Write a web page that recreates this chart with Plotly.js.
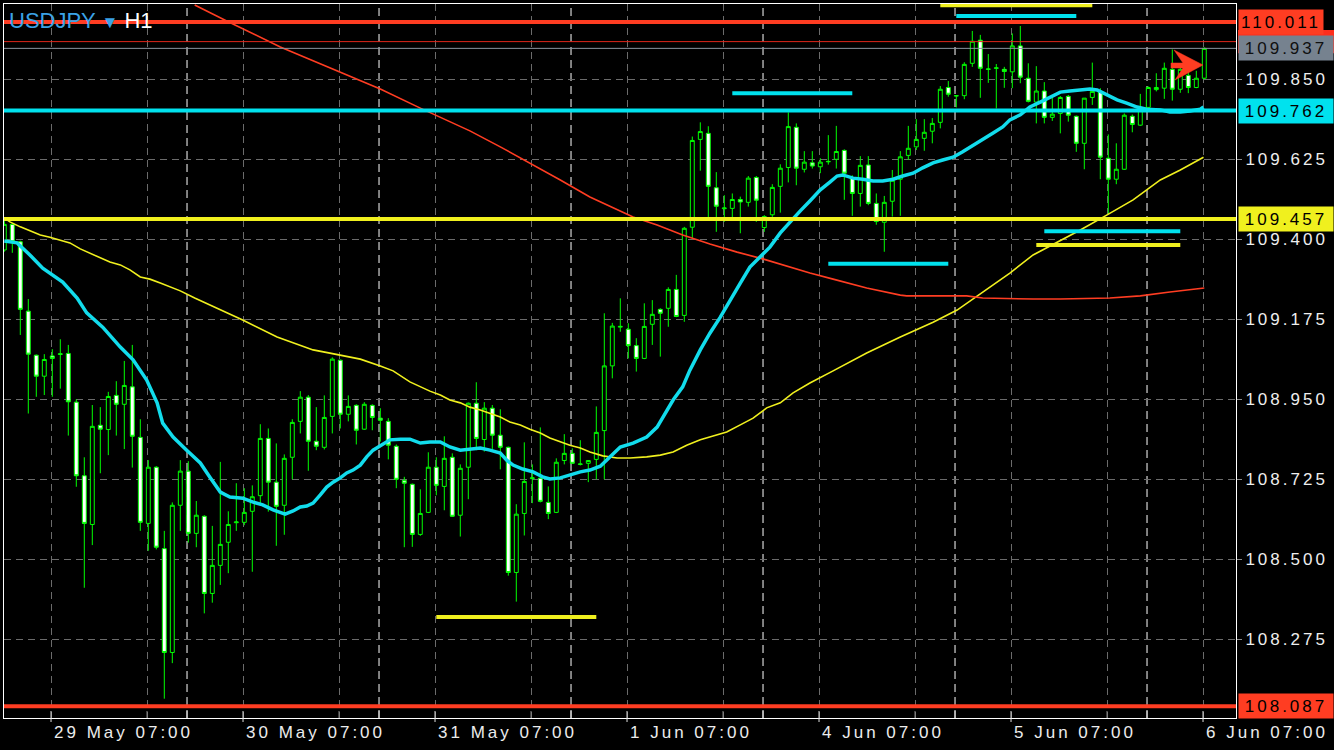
<!DOCTYPE html>
<html><head><meta charset="utf-8">
<script src="https://cdn.plot.ly/plotly-3.0.1.min.js"></script>
<style>
html,body{margin:0;padding:0;background:#000;}
#chart{width:1334px;height:750px;}
.ytick text, .annotation-text{letter-spacing:3px;}
</style></head><body><div id="chart"></div>
<script>
// ---------- DATA (USDJPY H1) ----------
const open = [
109.370,109.442,109.393,109.198,109.074,109.015,109.072,109.076,109.079,108.942,
108.735,108.598,108.877,108.865,108.961,108.936,108.985,108.843,108.601,108.759,
108.530,108.238,108.652,108.748,108.573,108.621,108.404,108.483,108.548,108.603,
108.604,108.635,108.679,108.840,108.717,108.652,108.787,108.888,108.956,108.832,
108.815,108.902,109.060,108.908,108.933,108.866,108.933,108.897,108.888,108.818,
108.722,108.711,108.570,108.632,108.759,108.705,108.787,108.624,108.759,108.939,
108.837,108.925,108.849,108.815,108.463,108.629,108.727,108.728,108.660,108.632,
108.778,108.798,108.767,108.770,108.781,108.862,109.044,109.153,109.147,109.101,
109.065,109.161,109.203,109.206,109.259,109.186,109.434,109.681,109.698,109.545,
109.486,109.487,109.512,109.504,109.574,109.433,109.469,109.549,109.602,109.715,
109.597,109.615,109.604,109.618,109.625,109.650,109.572,109.529,109.609,109.501,
109.448,109.507,109.569,109.636,109.660,109.684,109.704,109.729,109.827,109.803,
109.804,109.895,109.960,109.878,109.881,109.878,109.871,109.944,109.853,109.786,
109.817,109.743,109.754,109.802,109.746,109.670,109.799,109.816,109.628,109.569,
109.597,109.746,109.721,109.771,109.821,109.825,109.878,109.822,109.861,109.827,
109.853];
const high = [
109.455,109.446,109.396,109.232,109.076,109.077,109.091,109.119,109.103,108.950,
108.787,108.934,108.928,108.971,109.001,109.058,109.103,108.894,108.779,108.762,
108.580,108.660,108.779,108.776,108.664,108.624,108.594,108.774,108.635,108.714,
108.700,108.708,108.880,108.868,108.826,108.795,108.894,108.973,108.962,108.928,
108.961,109.068,109.062,108.961,108.936,108.942,108.936,108.925,108.897,108.823,
108.732,108.713,108.697,108.801,108.787,108.846,108.798,108.767,108.941,108.998,
108.942,108.934,108.922,108.817,108.655,108.829,108.767,108.871,108.705,108.784,
108.852,108.812,108.835,108.779,108.930,109.192,109.165,109.234,109.164,109.122,
109.220,109.229,109.206,109.265,109.300,109.435,109.689,109.729,109.718,109.589,
109.524,109.529,109.520,109.578,109.578,109.468,109.555,109.611,109.757,109.726,
109.648,109.648,109.628,109.693,109.719,109.653,109.580,109.634,109.634,109.529,
109.522,109.595,109.648,109.719,109.738,109.738,109.741,109.831,109.845,109.805,
109.898,109.986,109.975,109.921,109.893,109.885,109.979,110.000,109.895,109.887,
109.842,109.799,109.803,109.806,109.748,109.797,109.897,109.825,109.695,109.670,
109.754,109.751,109.809,109.830,109.867,109.897,109.934,109.885,109.878,109.874,
109.940];
const low = [
109.365,109.362,109.131,108.910,108.957,108.962,108.957,108.980,108.848,108.704,
108.420,108.540,108.742,108.793,108.848,108.810,108.758,108.580,108.524,108.528,
108.108,108.208,108.580,108.547,108.534,108.348,108.378,108.428,108.461,108.580,
108.596,108.465,108.651,108.634,108.538,108.569,108.725,108.854,108.749,108.807,
108.809,108.854,108.868,108.888,108.823,108.864,108.863,108.831,108.781,108.700,
108.534,108.535,108.566,108.630,108.680,108.638,108.619,108.564,108.669,108.807,
108.803,108.810,108.753,108.454,108.381,108.567,108.658,108.660,108.613,108.630,
108.767,108.768,108.764,108.717,108.725,108.725,109.009,109.140,109.065,109.028,
109.063,109.103,109.070,109.154,109.181,109.168,109.403,109.593,109.452,109.421,
109.449,109.452,109.417,109.492,109.449,109.421,109.463,109.475,109.560,109.552,
109.588,109.599,109.586,109.610,109.599,109.511,109.466,109.492,109.496,109.441,
109.365,109.464,109.466,109.623,109.651,109.649,109.670,109.712,109.801,109.771,
109.794,109.885,109.798,109.840,109.768,109.826,109.825,109.839,109.785,109.726,
109.726,109.733,109.698,109.731,109.646,109.597,109.778,109.569,109.471,109.555,
109.595,109.701,109.719,109.768,109.816,109.795,109.790,109.812,109.811,109.825,
109.850];
const close = [
109.442,109.393,109.203,109.077,109.015,109.062,109.065,109.078,108.943,108.735,
108.601,108.874,108.866,108.958,108.936,108.989,108.846,108.604,108.759,108.534,
108.238,108.652,108.748,108.573,108.624,108.404,108.483,108.542,108.598,108.605,
108.632,108.676,108.840,108.717,108.649,108.784,108.885,108.956,108.832,108.818,
108.899,109.063,108.908,108.930,108.863,108.936,108.899,108.891,108.821,108.725,
108.714,108.570,108.629,108.759,108.708,108.784,108.621,108.756,108.939,108.840,
108.925,108.849,108.815,108.463,108.627,108.719,108.729,108.663,108.629,108.773,
108.798,108.770,108.768,108.778,108.857,109.044,109.156,109.155,109.101,109.065,
109.155,109.189,109.192,109.259,109.183,109.431,109.678,109.703,109.549,109.493,
109.488,109.512,109.505,109.572,109.510,109.464,109.546,109.600,109.717,109.600,
109.617,109.606,109.617,109.619,109.647,109.586,109.529,109.608,109.501,109.450,
109.504,109.566,109.632,109.656,109.681,109.701,109.726,109.822,109.808,109.804,
109.892,109.957,109.881,109.879,109.882,109.872,109.944,109.856,109.788,109.817,
109.743,109.752,109.799,109.749,109.670,109.797,109.816,109.631,109.569,109.597,
109.749,109.723,109.771,109.827,109.827,109.881,109.822,109.878,109.827,109.853,
109.937];

// moving averages: [bar position, value]
const cyanMaBar = [0,1.6,3.2,4.8,7.3,9.1,10.3,12.3,14.5,16.1,17.8,19.1,19.8,21.1,22.8,24.5,25.7,27.0,28.2,29.8,
31.1,32.3,33.6,35.1,36.1,37.0,37.8,38.6,39.5,40.3,41.1,42.0,42.8,43.6,44.5,45.3,46.1,47.0,48.2,49.5,
50.7,52.0,53.2,54.5,55.7,57.0,58.2,59.5,60.7,62.0,62.8,63.6,64.8,66.1,67.3,68.2,69.5,70.7,72.0,73.2,
74.5,75.7,77.0,78.6,80.3,81.6,82.3,83.6,84.8,85.7,87.0,88.2,89.5,90.7,92.0,93.2,94.5,95.7,97.0,98.2,
99.5,100.7,102.0,103.2,104.1,104.8,106.1,107.3,108.6,109.8,111.1,112.3,113.6,114.8,116.1,117.3,118.6,119.8,121.1,122.3,
123.6,124.8,125.7,127.0,128.2,129.5,130.7,132.0,133.2,134.5,135.7,136.6,137.8,139.1,140.3,141.6,142.8,144.5,145.7,147.0,
148.2,149.5,149.9];
const cyanMaVal = [109.395,109.390,109.356,109.319,109.280,109.235,109.193,109.153,109.097,109.061,109.004,108.940,108.883,108.844,108.807,108.771,108.731,108.689,108.675,108.672,
108.661,108.653,108.639,108.627,108.636,108.647,108.650,108.658,108.681,108.703,108.717,108.729,108.743,108.751,108.765,108.788,108.807,108.819,108.836,108.838,
108.838,108.827,108.830,108.830,108.816,108.807,108.810,108.813,108.807,108.799,108.779,108.765,108.754,108.746,108.732,108.726,108.729,108.737,108.746,108.751,
108.762,108.788,108.816,108.827,108.844,108.872,108.900,108.948,108.985,109.032,109.089,109.136,109.181,109.229,109.277,109.322,109.350,109.378,109.418,109.449,
109.480,109.508,109.539,109.561,109.578,109.581,109.572,109.569,109.564,109.564,109.569,109.578,109.586,109.601,109.615,109.623,109.631,109.646,109.665,109.682,
109.699,109.716,109.736,109.750,109.772,109.786,109.800,109.814,109.817,109.820,109.823,109.820,109.806,109.792,109.783,109.772,109.766,109.764,109.758,109.758,
109.761,109.766,109.772];
const yellowMaBar = [0,0.7,2.0,3.2,4.5,5.7,7.0,8.2,9.5,10.7,12.0,13.2,14.5,15.7,17.0,18.2,19.5,20.7,22.0,23.8,
26.1,29.8,34.1,37.0,38.6,40.7,44.5,47.0,48.6,50.7,52.0,53.2,54.5,55.7,57.0,58.2,59.5,60.7,62.0,63.2,
64.5,65.7,67.0,68.2,69.5,70.7,72.0,73.2,74.8,76.6,78.2,80.3,82.0,83.6,85.3,87.0,88.6,90.3,92.0,93.6,
95.3,97.0,98.6,100.7,103.6,107.8,112.0,116.1,119.1,122.3,125.7,128.6,132.0,134.5,137.8,141.1,142.8,144.5,147.0,149.9];
const yellowMaVal = [109.460,109.449,109.435,109.423,109.412,109.406,109.398,109.390,109.373,109.361,109.350,109.336,109.328,109.314,109.294,109.288,109.277,109.266,109.255,109.235,
109.212,109.173,109.125,109.103,109.089,109.080,109.063,109.044,109.030,108.999,108.985,108.973,108.962,108.948,108.940,108.928,108.920,108.911,108.900,108.886,
108.878,108.866,108.855,108.841,108.830,108.821,108.813,108.802,108.791,108.785,108.785,108.788,108.793,108.802,108.821,108.836,108.847,108.858,108.878,108.897,
108.926,108.940,108.968,108.996,109.030,109.080,109.125,109.167,109.201,109.252,109.305,109.356,109.395,109.426,109.468,109.511,109.539,109.567,109.595,109.631];
const redMaBar = [23.8,27.8,34.5,42.0,47.0,52.0,54.5,58.2,62.0,65.7,69.5,73.2,78.6,81.6,84.8,88.2,91.6,94.8,98.2,100.7,
103.6,107.8,112.0,112.8,120.3,122.3,128.6,132.0,138.2,142.0,145.7,150.0];
const redMaVal = [110.059,110.014,109.941,109.871,109.823,109.769,109.744,109.705,109.660,109.615,109.567,109.519,109.463,109.440,109.412,109.387,109.364,109.345,109.322,109.305,
109.288,109.263,109.243,109.241,109.241,109.235,109.232,109.232,109.235,109.241,109.252,109.263];

// horizontal levels
const levelRed = [110.011, 108.087];
const levelCyan = [109.762];
const levelYellow = [109.457];
const bidPrice = 109.937;
const askPrice = 109.956;
// short level segments: start bar, end bar, price
const cyanSegStart = [119, 91, 103, 130];
const cyanSegEnd   = [134, 106, 118, 147];
const cyanSegPrice = [110.028, 109.811, 109.331, 109.423];
const yellowSegStart = [117, 129, 54];
const yellowSegEnd   = [136, 147, 74];
const yellowSegPrice = [110.058, 109.384, 108.338];

// axes
const yTickVals = [109.850,109.625,109.400,109.175,108.950,108.725,108.500,108.275];
const xTickBars = [6,30,54,78,102,126,150];
const xTickLabels = ['29 May 07:00','30 May 07:00','31 May 07:00','1 Jun 07:00','4 Jun 07:00','5 Jun 07:00','6 Jun 07:00'];
const dayStartBars = [23,47,71,95,119,143];

// ---------- STYLE ----------
const RED = '#ff3d22', CYAN = '#00e2ee', YEL = '#f0f01e', GRN = '#00ff00';
const FONT = 'Liberation Sans, Arial, sans-serif';
const off = -0.16;               // grid lines sit slightly left of bar centres
const bars = open.map((_, i) => i);

const traces = [
  {type:'candlestick', x:bars, open:open, high:high, low:low, close:close,
   increasing:{line:{color:GRN,width:1}, fillcolor:'#000000'},
   decreasing:{line:{color:GRN,width:1}, fillcolor:'#ffffff'},
   whiskerwidth:0, hoverinfo:'none', showlegend:false},
  {type:'scatter', mode:'lines', x:yellowMaBar, y:yellowMaVal, line:{color:YEL,width:1.6}, hoverinfo:'skip', showlegend:false},
  {type:'scatter', mode:'lines', x:redMaBar, y:redMaVal, line:{color:RED,width:1.6}, hoverinfo:'skip', showlegend:false},
  {type:'scatter', mode:'lines', x:cyanMaBar, y:cyanMaVal, line:{color:'#12dcec',width:3.5}, hoverinfo:'skip', showlegend:false}
];

const PW = 1232, PH = 714;
const shapes = [];
// day separators
dayStartBars.forEach(b => shapes.push({type:'line', xref:'x', yref:'paper', x0:b+off, x1:b+off, y0:0, y1:1,
  line:{color:'#ffffff', width:1, dash:'8px,5px'}, layer:'below'}));
// bottom tick marks
for (let n = 0; n < 13; n++) {
  const k = 6 + 12*n + off;
  const labeled = n % 2 === 0;
  shapes.push({type:'line', xref:'x', yref:'paper', x0:k, x1:k, y0: labeled ? -4/PH : 0, y1:7/PH,
    line:{color: labeled ? '#e0e0e0' : '#8a8a8a', width:1}, layer:'above'});
}
dayStartBars.forEach(b => shapes.push({type:'line', xref:'x', yref:'paper', x0:b+off, x1:b+off, y0:0, y1:7/PH,
  line:{color:'#e0e0e0', width:1}, layer:'above'}));
// thin bid / ask lines
shapes.push({type:'line', xref:'paper', yref:'y', x0:0, x1:1, y0:askPrice, y1:askPrice, line:{color:'#e0261a', width:1}, layer:'above'});
shapes.push({type:'line', xref:'paper', yref:'y', x0:0, x1:1, y0:bidPrice, y1:bidPrice, line:{color:'#8a949e', width:1}, layer:'above'});
// thick full-width levels
const addLevel = (p, c) => shapes.push({type:'line', xref:'paper', yref:'y', x0:0, x1:1, y0:p, y1:p, line:{color:c, width:4}, layer:'above'});
levelRed.forEach(p => addLevel(p, RED));
levelCyan.forEach(p => addLevel(p, CYAN));
levelYellow.forEach(p => addLevel(p, YEL));
// short segments
cyanSegPrice.forEach((p, i) => shapes.push({type:'line', xref:'x', yref:'y', x0:cyanSegStart[i], x1:cyanSegEnd[i], y0:p, y1:p, line:{color:CYAN, width:4}, layer:'above'}));
yellowSegPrice.forEach((p, i) => shapes.push({type:'line', xref:'x', yref:'y', x0:yellowSegStart[i], x1:yellowSegEnd[i], y0:p, y1:p, line:{color:YEL, width:4}, layer:'above'}));
// ask price tag box (mostly hidden behind the bid tag)
shapes.push({type:'rect', xref:'paper', yref:'y', x0:1+2/PW, x1:1+98/PW, y0:askPrice-0.033, y1:askPrice+0.033,
  fillcolor:'#ff2e1c', line:{width:0}, layer:'above'});
// arrow marker (decoration, in pixel space)
const P = (px, py) => ((px-4)/PW).toFixed(5) + ',' + (1-(py-4)/PH).toFixed(5);
shapes.push({type:'path', xref:'paper', yref:'paper', layer:'above',
  path:`M${P(1203,65)} L${P(1174,50)} L${P(1183,63)} L${P(1171,63)} L${P(1171,68)} L${P(1183,68)} L${P(1175,80)} Z`,
  fillcolor:RED, line:{color:RED, width:0.5}});

const annotations = [];
xTickBars.forEach((b, i) => annotations.push({xref:'x', yref:'paper', x:b+off, y:0, xanchor:'left', yanchor:'top',
  xshift:1, yshift:-3, text:xTickLabels[i], showarrow:false, font:{family:FONT, size:17, color:'#ececec'}}));
const tag = (p, bg, fg, w) => annotations.push({xref:'paper', yref:'y', x:1, y:p, xanchor:'left', yanchor:'middle',
  xshift:2, text:p.toFixed(3), showarrow:false, bgcolor:bg, borderpad:1, width:w, height:22, align:'center',
  font:{family:FONT, size:17, color:fg}});
tag(levelRed[0], RED, '#000', 82);
tag(bidPrice, '#76828f', '#101010', 92);
tag(levelCyan[0], CYAN, '#000', 92);
tag(levelYellow[0], YEL, '#000', 92);
tag(levelRed[1], RED, '#000', 92);

const layout = {
  width:1334, height:750, paper_bgcolor:'#000', plot_bgcolor:'#000',
  margin:{l:4, r:98, t:4, b:32}, showlegend:false, hovermode:false,
  boxgap:0.3, boxgroupgap:0.3,
  title:{text:'<span style="color:#3ba3e6">USDJPY</span> <span style="color:#3ba3e6;font-size:17px">▼</span> H1',
    x:9/1334, xref:'container', xanchor:'left', y:1-20/750, yref:'container', yanchor:'middle',
    font:{family:FONT, size:22, color:'#ffffff'}},
  xaxis:{range:[-0.0375, 153.9625], showticklabels:false, ticks:'', zeroline:false,
    tickmode:'array', tickvals:Array.from({length:13}, (_, n) => 6 + 12*n + off),
    showgrid:true, gridcolor:'#6b6b6b', gridwidth:1, griddash:'7px,5px',
    showline:true, linecolor:'#ffffff', linewidth:1, mirror:true, rangeslider:{visible:false}, fixedrange:true},
  yaxis:{range:[108.0537, 110.0618], side:'right', tickmode:'array', tickvals:yTickVals,
    ticktext:yTickVals.map(v => v.toFixed(3)), ticks:'outside', ticklen:5, tickcolor:'#8c8c8c', tickwidth:1,
    tickfont:{family:FONT, size:17, color:'#eeeeee'}, zeroline:false,
    showgrid:true, gridcolor:'#6b6b6b', gridwidth:1, griddash:'7px,5px',
    showline:true, linecolor:'#ffffff', linewidth:1, mirror:true, fixedrange:true},
  shapes:shapes, annotations:annotations
};
Plotly.newPlot('chart', traces, layout, {staticPlot:true, displayModeBar:false});
</script></body></html>
